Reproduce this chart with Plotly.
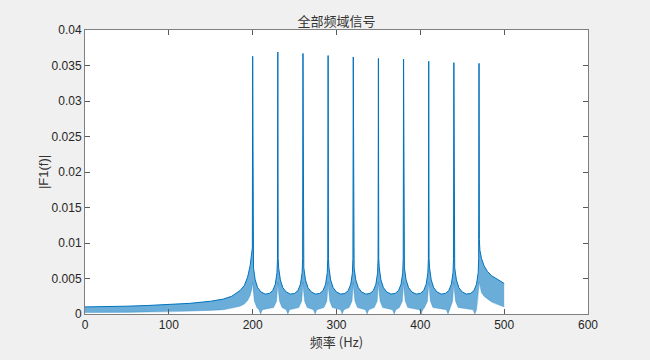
import plotly.graph_objects as go

# ---- data ----
peak_freqs = [200, 230, 260, 290, 320, 350, 380, 410, 440, 470]
peak_heights = [0.0363, 0.0369, 0.0367, 0.0364, 0.0362, 0.0360, 0.0359, 0.0356, 0.0354, 0.0353]
peak_left_shoulder = [0.0093, 0.0078, 0.0078, 0.0078, 0.0078, 0.0078, 0.0078, 0.0078, 0.0078, 0.0078]
peak_right_shoulder = [0.0082, 0.0078, 0.0078, 0.0078, 0.0078, 0.0078, 0.0078, 0.0078, 0.0078, 0.0105]

# band below 200 Hz
head_freqs = [0, 25, 50, 75, 100, 125, 150, 165, 175, 185, 190, 194, 197, 199]
head_upper = [0.0010, 0.0010, 0.0011, 0.0012, 0.0013, 0.0015, 0.0018, 0.0021, 0.0025, 0.0033, 0.0040, 0.0052, 0.0068, 0.0085]
head_lower = [0.0002, 0.0002, 0.0002, 0.0003, 0.0003, 0.0004, 0.0005, 0.0006, 0.0008, 0.0011, 0.0014, 0.0019, 0.0026, 0.0035]

# typical trough between two peaks (offset from the left peak, Hz)
gap_offsets = [1, 3, 6, 10, 15, 20, 24, 27, 29]
gap_upper = [0.0065, 0.0048, 0.0037, 0.0031, 0.0028, 0.0029, 0.0033, 0.0042, 0.0058]
gap_lower_offsets = [0.5, 2, 5, 25, 28.5, 29.5]
gap_lower = [0.0035, 0.0018, 0.0009, 0.0009, 0.0018, 0.0035]
# frequencies where the lower edge dips to zero
trough_freqs = [209.5, 242, 274.5, 306.8, 336.5, 368.8, 401, 433, 465]
trough_depth = [0.0, 0.0, 0.0, 0.0, 0.0, 0.0, 0.0, 0.0, 0.0]
trough_side = 0.0006

# band above the last peak
tail_freqs = [471, 473, 476, 480, 485, 490, 495, 500]
tail_upper = [0.0090, 0.0078, 0.0068, 0.0060, 0.0054, 0.0050, 0.0046, 0.0043]
tail_lower = [0.0038, 0.0030, 0.0025, 0.0021, 0.0017, 0.0014, 0.0012, 0.0010]

x_ticks = [0, 100, 200, 300, 400, 500, 600]
y_ticks = [0, 0.005, 0.01, 0.015, 0.02, 0.025, 0.03, 0.035, 0.04]
y_tick_text = ["0", "0.005", "0.01", "0.015", "0.02", "0.025", "0.03", "0.035", "0.04"]

# ---- build upper and lower edges of the dense spectrum band ----
ux, uy = list(head_freqs), list(head_upper)
lx, ly = list(head_freqs), list(head_lower)
for i, p in enumerate(peak_freqs):
    ux += [p - 0.4, p, p + 0.4]
    uy += [peak_left_shoulder[i], peak_heights[i], peak_right_shoulder[i]]
    lx += [p]
    ly += [0.0045]
    if i < len(trough_freqs):
        ux += [p + o for o in gap_offsets]
        uy += list(gap_upper)
        v = trough_freqs[i]
        pts = [(p + o, val) for o, val in zip(gap_lower_offsets, gap_lower)
               if abs(p + o - v) > 2.5]
        pts += [(v - 2, trough_side), (v, trough_depth[i]), (v + 2, trough_side)]
        pts.sort()
        lx += [a for a, _ in pts]
        ly += [b for _, b in pts]
ux += tail_freqs
uy += tail_upper
lx += tail_freqs
ly += tail_lower

fig = go.Figure()
fig.add_trace(go.Scatter(
    x=ux + lx[::-1], y=uy + ly[::-1], mode="lines", fill="toself",
    fillcolor="rgba(0,114,189,0.58)", line=dict(width=0), hoverinfo="skip",
    showlegend=False))
fig.add_trace(go.Scatter(
    x=ux, y=uy, mode="lines", line=dict(color="#0072BD", width=1),
    showlegend=False))
fig.add_trace(go.Scatter(
    x=lx, y=ly, mode="lines", line=dict(color="rgba(0,114,189,0.45)", width=0.6),
    showlegend=False))

axis_common = dict(
    showline=True, linecolor="#7f7f7f", linewidth=1, mirror="ticks",
    ticks="inside", ticklen=5, tickcolor="#5a5a5a", showgrid=False,
    zeroline=False, tickfont=dict(size=12, color="#262626"),
)
fig.update_layout(
    width=650, height=360,
    margin=dict(l=85, r=62, t=30, b=46),
    paper_bgcolor="#f0f0f0", plot_bgcolor="white",
    font=dict(family="Liberation Sans, Noto Sans CJK SC, sans-serif", color="#262626"),
    title=dict(text="全部频域信号", x=0.5, xref="paper", xanchor="center",
               y=1, yref="paper", yanchor="bottom", pad=dict(b=4),
               font=dict(size=13, family="Noto Sans CJK SC", color="#333333")),
    xaxis=dict(range=[0, 600], tickvals=x_ticks,
               title=dict(text="频率 (Hz)", standoff=4,
                          font=dict(size=13, family="Noto Sans CJK SC, Liberation Sans", color="#333333")),
               **axis_common),
    yaxis=dict(range=[0, 0.04], tickvals=y_ticks, ticktext=y_tick_text,
               title=dict(text="|F1(f)|", standoff=0,
                          font=dict(size=13, family="Liberation Sans", color="#333333")),
               **axis_common),
)
fig.write_html(
    "out.html",
    config={"displayModeBar": False},
    post_script="document.body.style.margin='0';document.body.style.background='#f0f0f0';",
)
